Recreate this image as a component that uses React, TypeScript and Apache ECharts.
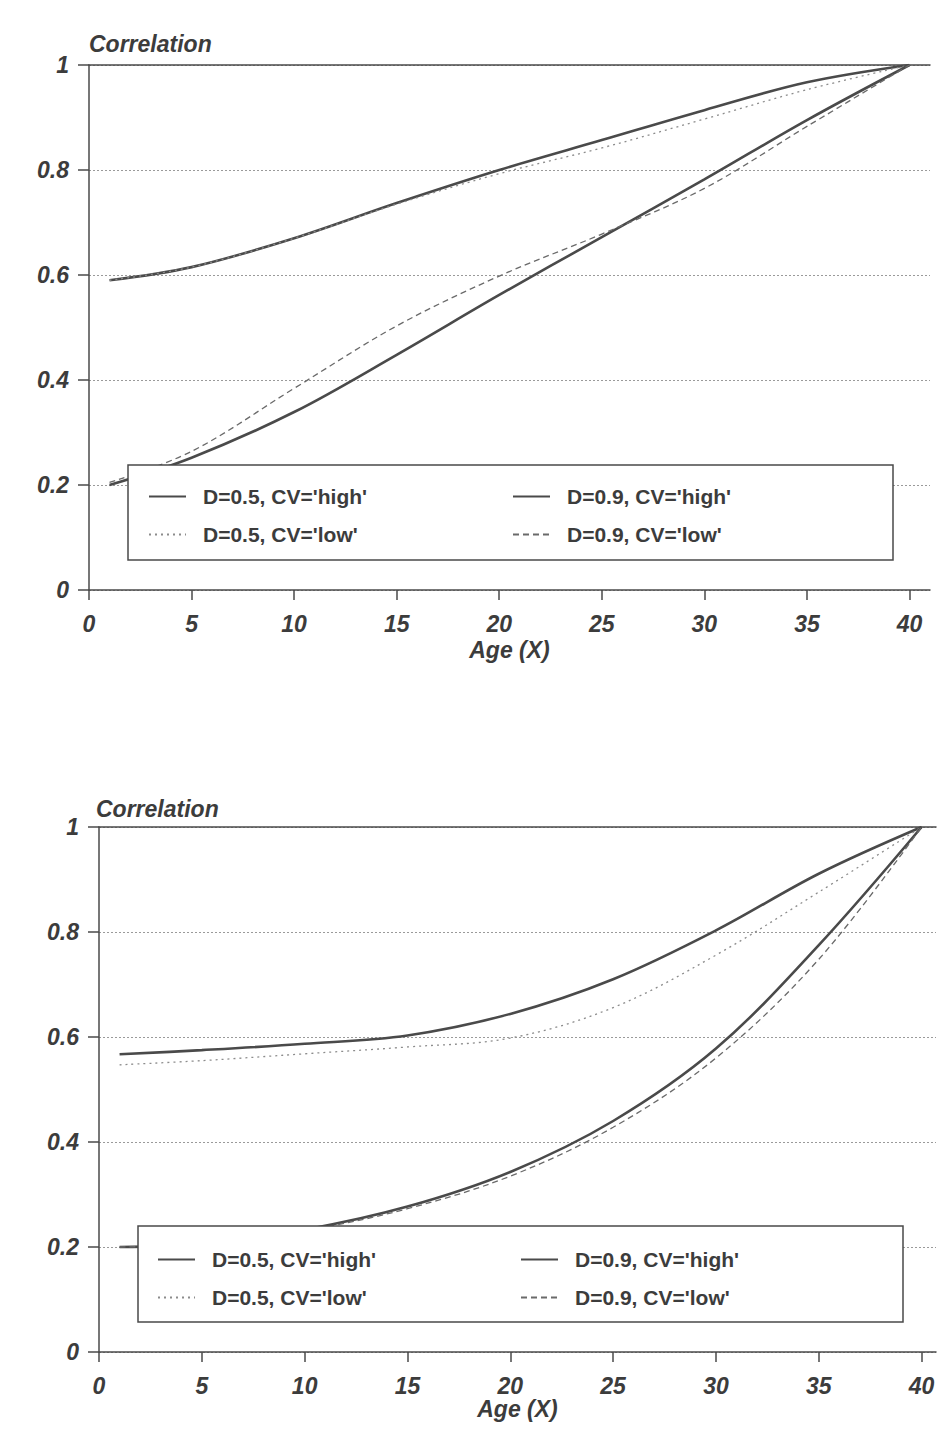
import React, { useEffect, useRef } from 'react';
import * as echarts from 'echarts';

// Age values (X)
const ages = [1, 5, 10, 15, 20, 25, 30, 35, 40];

// Upper chart
const top05High = [0.59, 0.615, 0.67, 0.737, 0.8, 0.857, 0.914, 0.967, 1.0];
const top05Low = [0.59, 0.615, 0.67, 0.735, 0.793, 0.842, 0.897, 0.953, 1.0];
const top09High = [0.2, 0.252, 0.339, 0.448, 0.562, 0.672, 0.782, 0.895, 1.0];
const top09Low = [0.205, 0.264, 0.384, 0.503, 0.598, 0.678, 0.765, 0.883, 1.0];

// Lower chart
const bot05High = [0.567, 0.575, 0.587, 0.603, 0.644, 0.71, 0.803, 0.911, 1.0];
const bot05Low = [0.547, 0.555, 0.568, 0.581, 0.598, 0.656, 0.756, 0.876, 1.0];
const bot09High = [0.2, 0.206, 0.233, 0.277, 0.343, 0.44, 0.578, 0.775, 1.0];
const bot09Low = [0.2, 0.206, 0.231, 0.273, 0.335, 0.428, 0.56, 0.748, 1.0];

const seriesNames = ["D=0.5, CV='high'", "D=0.5, CV='low'", "D=0.9, CV='high'", "D=0.9, CV='low'"];
const xTicks = [0, 5, 10, 15, 20, 25, 30, 35, 40];

const FONT = "'Liberation Sans', Arial, sans-serif";
const INK = '#4a4a4a';
const TEXT = '#3c3c3c';

const lineStyles: any[] = [
  { color: INK, width: 2.6, type: 'solid' },
  { color: '#8c8c8c', width: 1.3, type: [2, 4] },
  { color: INK, width: 2.6, type: 'solid' },
  { color: '#6a6a6a', width: 1.3, type: [6, 4] },
];

const axisText = {
  fontFamily: FONT,
  fontSize: 23,
  fontWeight: 'bold' as const,
  fontStyle: 'italic' as const,
  color: TEXT,
};

function pairs(vals: number[]) {
  return ages.map((a, i) => [a, vals[i]]);
}

export default function App() {
  const ref = useRef<HTMLDivElement>(null);

  useEffect(() => {
    document.body.style.margin = '0';
    document.body.style.background = '#ffffff';
    if (!ref.current) return;
    const chart = echarts.init(ref.current, null, { renderer: 'svg' });

    const grids = [
      { left: 89, top: 65, right: 8, bottom: 866 },
      { left: 99, top: 827, right: 2, bottom: 104 },
    ];
    const xMax = [41, 40.7];
    const nameGaps = [48, 45];
    const titleGaps = [10, 7];

    const xAxes: any[] = [];
    const yAxes: any[] = [];
    grids.forEach((g, gi) => {
      xAxes.push({
        type: 'value',
        gridIndex: gi,
        position: 'bottom',
        min: 0,
        max: xMax[gi],
        interval: 5,
        name: 'Age (X)',
        nameLocation: 'middle',
        nameGap: nameGaps[gi],
        nameTextStyle: axisText,
        axisLine: { show: true, lineStyle: { color: INK, width: 1.5 } },
        axisTick: { show: true, length: 10, customValues: xTicks, lineStyle: { color: INK, width: 1.5 } },
        axisLabel: {
          ...axisText,
          margin: 22,
          customValues: xTicks,
          formatter: (v: number) => (v % 5 === 0 ? String(v) : ''),
        },
        splitLine: { show: false },
      });
      xAxes.push({
        type: 'value',
        gridIndex: gi,
        position: 'top',
        min: 0,
        max: xMax[gi],
        axisLine: { show: true, onZero: false, lineStyle: { color: INK, width: 1.5 } },
        axisTick: { show: false },
        axisLabel: { show: false },
        splitLine: { show: false },
      });
      yAxes.push({
        type: 'value',
        gridIndex: gi,
        min: 0,
        max: 1,
        interval: 0.2,
        name: 'Correlation',
        nameLocation: 'end',
        nameGap: titleGaps[gi],
        nameTextStyle: { ...axisText, align: 'left', padding: [0, 0, 0, gi === 0 ? 0 : -3] },
        axisLine: { show: true, lineStyle: { color: INK, width: 1.5 } },
        axisTick: { show: true, length: 11, lineStyle: { color: INK, width: 1.5 } },
        axisLabel: {
          ...axisText,
          margin: 20,
          formatter: (v: number) => (v === 0 ? '0' : v === 1 ? '1' : v.toFixed(1)),
        },
        splitLine: { show: true, lineStyle: { color: '#9a9a9a', width: 1, type: [2, 2] } },
      });
    });

    const dataSets = [
      [top05High, top05Low, top09High, top09Low],
      [bot05High, bot05Low, bot09High, bot09Low],
    ];

    const series: any[] = [];
    dataSets.forEach((set, gi) => {
      set.forEach((vals, si) => {
        series.push({
          type: 'line',
          name: seriesNames[si],
          xAxisIndex: gi * 2,
          yAxisIndex: gi,
          data: pairs(vals),
          smooth: 0.35,
          symbol: 'none',
          showSymbol: false,
          lineStyle: lineStyles[si],
          itemStyle: { color: lineStyles[si].color },
          z: 2,
        });
      });
    });

    const legendPos = [
      { cols: [148, 512], rows: [497, 535] },
      { cols: [157, 520], rows: [1260, 1298] },
    ];
    const order = [
      [0, 0, 0],
      [2, 1, 0],
      [1, 0, 1],
      [3, 1, 1],
    ];
    const legends: any[] = [];
    legendPos.forEach((p) => {
      order.forEach(([si, c, r]) => {
        legends.push({
          show: true,
          data: [seriesNames[si]],
          left: p.cols[c],
          top: p.rows[r] - 11,
          padding: 0,
          itemWidth: 37,
          itemHeight: 14,
          itemGap: 0,
          selectedMode: false,
          z: 60,
          itemStyle: { opacity: 0, borderWidth: 0 },
          textStyle: {
            fontFamily: FONT,
            fontSize: 21,
            fontWeight: 'bold',
            color: TEXT,
            padding: [0, 0, 0, 12],
          },
        });
      });
    });

    const boxes = [
      { x: 128, y: 465, width: 765, height: 95 },
      { x: 138, y: 1226, width: 765, height: 96 },
    ];

    chart.setOption({
      animation: false,
      backgroundColor: '#ffffff',
      grid: grids,
      xAxis: xAxes,
      yAxis: yAxes,
      legend: legends,
      series,
      graphic: boxes.map((b) => ({
        type: 'rect',
        shape: b,
        z: 50,
        style: { fill: '#ffffff', stroke: INK, lineWidth: 1.5 },
      })),
    });

    return () => chart.dispose();
  }, []);

  return <div ref={ref} style={{ width: 938, height: 1456 }} />;
}
